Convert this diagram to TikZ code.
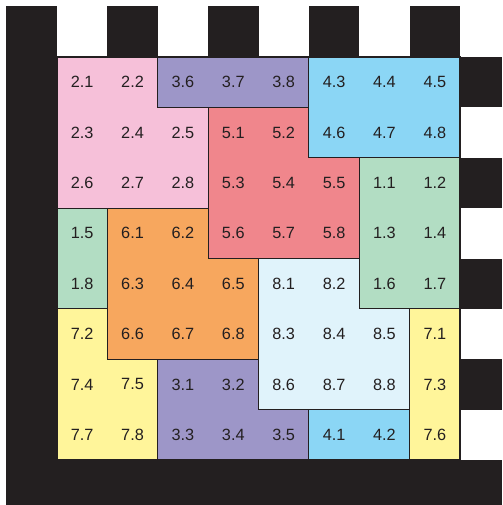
\documentclass[tikz,border=0pt]{standalone}
\usepackage{fontspec}
\setmainfont{Liberation Sans}
\definecolor{frameblk}{HTML}{231F20}
\definecolor{cpink}{HTML}{F6C0D9}
\definecolor{cpurple}{HTML}{9D96C8}
\definecolor{cblue}{HTML}{8BD6F5}
\definecolor{cred}{HTML}{F0868C}
\definecolor{cgreen}{HTML}{B2DDC3}
\definecolor{corange}{HTML}{F7A75E}
\definecolor{clight}{HTML}{E0F3FB}
\definecolor{cyellow}{HTML}{FFF59A}
\tikzset{
  piece/.style={draw=frameblk, line width=0.6pt, line join=miter},
  blk/.style={fill=frameblk, draw=none},
  lbl/.style={text=frameblk, font=\fontsize{9.2}{11}\selectfont, inner sep=0pt}
}
\begin{document}
\begin{tikzpicture}[x=1cm,y=-1cm]
\useasboundingbox (-1.1315,-1.1315) rectangle (8.834,8.893);
% frame
\fill[blk] (-1.0124,-1.0124) rectangle (0,8.893);
\fill[blk] (-1.0124,8) rectangle (8.834,8.893);
\foreach \c in {1,3,5,7} {\fill[blk] (\c,-1.0124) rectangle (\c+1,0);}
\foreach \r in {0,2,4,6} {\fill[blk] (8,\r) rectangle (8.834,\r+1);}
% pieces
\filldraw[piece, fill=cpink] (0,0) -- (2,0) -- (2,1) -- (3,1) -- (3,3) -- (0,3) -- cycle;
\filldraw[piece, fill=cpurple] (2,0) -- (5,0) -- (5,1) -- (2,1) -- cycle;
\filldraw[piece, fill=cblue] (5,0) -- (8,0) -- (8,2) -- (5,2) -- cycle;
\filldraw[piece, fill=cred] (3,1) -- (5,1) -- (5,2) -- (6,2) -- (6,4) -- (3,4) -- cycle;
\filldraw[piece, fill=cgreen] (6,2) -- (8,2) -- (8,5) -- (6,5) -- cycle;
\filldraw[piece, fill=cgreen] (0,3) -- (1,3) -- (1,5) -- (0,5) -- cycle;
\filldraw[piece, fill=corange] (1,3) -- (3,3) -- (3,4) -- (4,4) -- (4,6) -- (1,6) -- cycle;
\filldraw[piece, fill=clight] (4,4) -- (6,4) -- (6,5) -- (7,5) -- (7,7) -- (4,7) -- cycle;
\filldraw[piece, fill=cyellow] (0,5) -- (1,5) -- (1,6) -- (2,6) -- (2,8) -- (0,8) -- cycle;
\filldraw[piece, fill=cyellow] (7,5) -- (8,5) -- (8,8) -- (7,8) -- cycle;
\filldraw[piece, fill=cpurple] (2,6) -- (4,6) -- (4,7) -- (5,7) -- (5,8) -- (2,8) -- cycle;
\filldraw[piece, fill=cblue] (5,7) -- (7,7) -- (7,8) -- (5,8) -- cycle;
% labels
\def\lab#1#2#3{\node[lbl] (n#1) at (#2+0.5,#3+0.5) {#1};}
\lab{2.1}{0}{0}\lab{2.2}{1}{0}\lab{3.6}{2}{0}\lab{3.7}{3}{0}\lab{3.8}{4}{0}\lab{4.3}{5}{0}\lab{4.4}{6}{0}\lab{4.5}{7}{0}
\lab{2.3}{0}{1}\lab{2.4}{1}{1}\lab{2.5}{2}{1}\lab{5.1}{3}{1}\lab{5.2}{4}{1}\lab{4.6}{5}{1}\lab{4.7}{6}{1}\lab{4.8}{7}{1}
\lab{2.6}{0}{2}\lab{2.7}{1}{2}\lab{2.8}{2}{2}\lab{5.3}{3}{2}\lab{5.4}{4}{2}\lab{5.5}{5}{2}\lab{1.1}{6}{2}\lab{1.2}{7}{2}
\lab{1.5}{0}{3}\lab{6.1}{1}{3}\lab{6.2}{2}{3}\lab{5.6}{3}{3}\lab{5.7}{4}{3}\lab{5.8}{5}{3}\lab{1.3}{6}{3}\lab{1.4}{7}{3}
\lab{1.8}{0}{4}\lab{6.3}{1}{4}\lab{6.4}{2}{4}\lab{6.5}{3}{4}\lab{8.1}{4}{4}\lab{8.2}{5}{4}\lab{1.6}{6}{4}\lab{1.7}{7}{4}
\lab{7.2}{0}{5}\lab{6.6}{1}{5}\lab{6.7}{2}{5}\lab{6.8}{3}{5}\lab{8.3}{4}{5}\lab{8.4}{5}{5}\lab{8.5}{6}{5}\lab{7.1}{7}{5}
\lab{7.4}{0}{6}\lab{7.5}{1}{6}\lab{3.1}{2}{6}\lab{3.2}{3}{6}\lab{8.6}{4}{6}\lab{8.7}{5}{6}\lab{8.8}{6}{6}\lab{7.3}{7}{6}
\lab{7.7}{0}{7}\lab{7.8}{1}{7}\lab{3.3}{2}{7}\lab{3.4}{3}{7}\lab{3.5}{4}{7}\lab{4.1}{5}{7}\lab{4.2}{6}{7}\lab{7.6}{7}{7}
\end{tikzpicture}
\end{document}
